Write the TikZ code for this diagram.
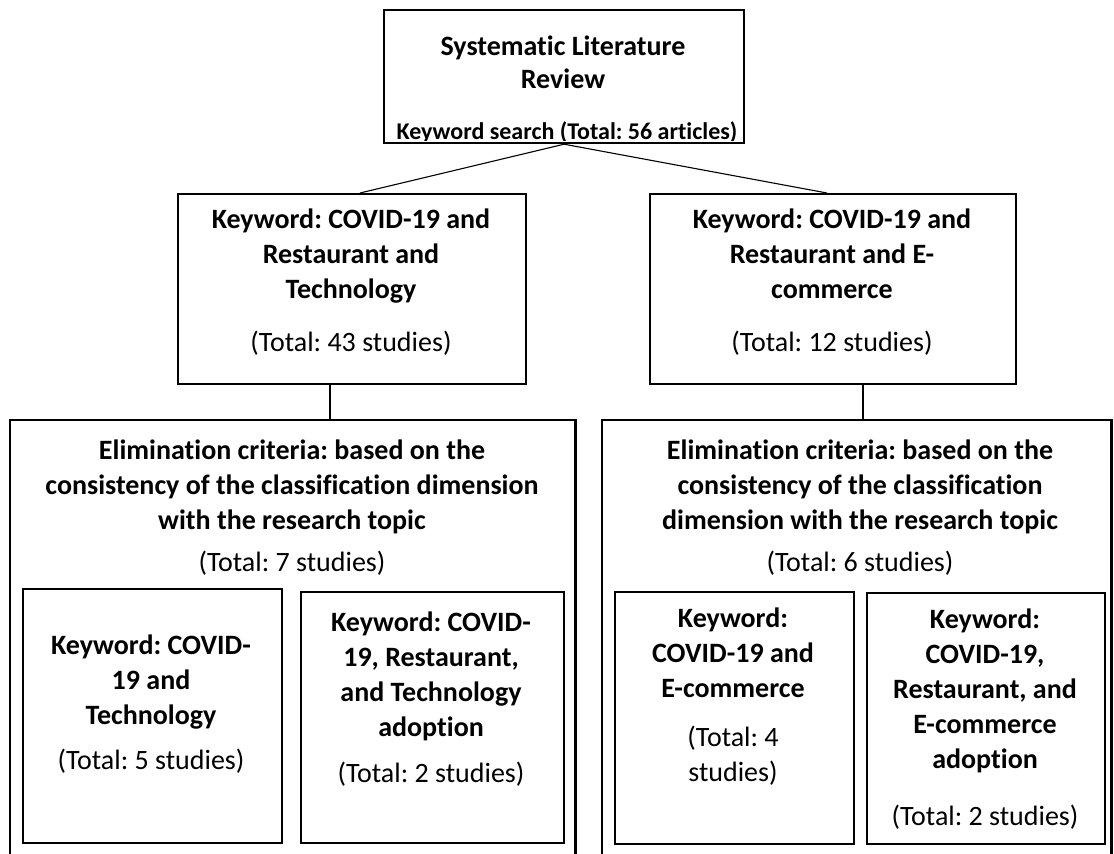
\documentclass[tikz,border=0pt]{standalone}
\usepackage{fontspec}
\setmainfont{Carlito}[Ligatures=NoCommon]
\frenchspacing
\begin{document}
\begin{tikzpicture}[x=1pt,y=-1pt,
  box/.style={draw=black,line width=2.2pt,anchor=north west,inner sep=0pt},
  link/.style={draw=black,line width=1.1pt},
  bt/.style={font=\fontsize{28}{34}\selectfont\bfseries,inner sep=0pt,text height=19pt,text depth=6pt},
  nt/.style={font=\fontsize{28}{34}\selectfont,inner sep=0pt,text height=19pt,text depth=6pt},
  st/.style={font=\fontsize{24}{29}\selectfont\bfseries,inner sep=0pt,text height=16pt,text depth=5pt}]
\useasboundingbox (0,0) rectangle (1114,854);
% top box
\node[box,minimum width=360pt,minimum height=133pt] (top) at (383,9) {};
\node[bt] (top1) at (563,49) {Systematic Literature};
\node[bt] (top2) at (563,82) {Review};
\begin{scope}
\clip (384,10) rectangle (742,140);
\node[st] (top3) at (567,134) {Keyword search (Total: 56 articles)};
\end{scope}
% keyword boxes
\node[box,minimum width=348pt,minimum height=190pt] (kl) at (177,193) {};
\node[bt] (kl1) at (351,222) {Keyword: COVID-19 and};
\node[bt] (kl2) at (351,257) {Restaurant and};
\node[bt] (kl3) at (351,292) {Technology};
\node[nt] (kl4) at (351,345) {(Total: 43 studies)};
\node[box,minimum width=366pt,minimum height=190pt] (kr) at (649,193) {};
\node[bt] (kr1) at (832,222) {Keyword: COVID-19 and};
\node[bt] (kr2) at (832,257) {Restaurant and E-};
\node[bt] (kr3) at (832,292) {commerce};
\node[nt] (kr4) at (832,345) {(Total: 12 studies)};
\coordinate (kla) at (360,193);
\coordinate (kra) at (827,193);
\draw[link] (top.south) -- (kla);
\draw[link] (top.south) -- (kra);
% elimination boxes (open at the bottom)
\node[inner sep=0pt,anchor=north west,minimum width=565pt,minimum height=434pt] (el) at (10,420) {};
\draw[line width=2.2pt] (el.south west) -- (el.north west) -- (el.north east) -- (el.south east);
\node[inner sep=0pt,anchor=north west,minimum width=509pt,minimum height=434pt] (er) at (602,420) {};
\draw[line width=2.2pt] (er.south west) -- (er.north west) -- (er.north east) -- (er.south east);
\draw[link] (kl.south -| 330,0) -- (el.north -| 330,0);
\draw[link] (kr.south -| 863,0) -- (er.north -| 863,0);
\node[bt] (el1) at (292,453) {Elimination criteria: based on the};
\node[bt] (el2) at (292,488) {consistency of the classification dimension};
\node[bt] (el3) at (292,523) {with the research topic};
\node[nt] (el4) at (292,565) {(Total: 7 studies)};
\node[bt] (er1) at (860,453) {Elimination criteria: based on the};
\node[bt] (er2) at (860,488) {consistency of the classification};
\node[bt] (er3) at (860,523) {dimension with the research topic};
\node[nt] (er4) at (860,565) {(Total: 6 studies)};
% inner boxes
\node[box,minimum width=259pt,minimum height=254pt] (a) at (22,588) {};
\node[bt] (a1) at (151,648) {Keyword: COVID-};
\node[bt] (a2) at (151,683) {19 and};
\node[bt] (a3) at (151,718) {Technology};
\node[nt] (a4) at (151,763) {(Total: 5 studies)};
\node[box,minimum width=263pt,minimum height=251pt] (b) at (300,591) {};
\node[bt] (b1) at (431,625) {Keyword: COVID-};
\node[bt] (b2) at (431,660) {19, Restaurant,};
\node[bt] (b3) at (431,695) {and Technology};
\node[bt] (b4) at (431,730) {adoption};
\node[nt] (b5) at (431,776) {(Total: 2 studies)};
\node[box,minimum width=239pt,minimum height=252pt] (c) at (614,591) {};
\node[bt] (c1) at (733,621) {Keyword:};
\node[bt] (c2) at (733,656) {COVID-19 and};
\node[bt] (c3) at (733,691) {E-commerce};
\node[nt] (c4) at (733,740) {(Total: 4};
\node[nt] (c5) at (733,775) {studies)};
\node[box,minimum width=238pt,minimum height=251pt] (d) at (866,592) {};
\node[bt] (d1) at (985,622) {Keyword:};
\node[bt] (d2) at (985,657) {COVID-19,};
\node[bt] (d3) at (985,692) {Restaurant, and};
\node[bt] (d4) at (985,727) {E-commerce};
\node[bt] (d5) at (985,762) {adoption};
\node[nt] (d6) at (985,819) {(Total: 2 studies)};
\end{tikzpicture}
\end{document}
